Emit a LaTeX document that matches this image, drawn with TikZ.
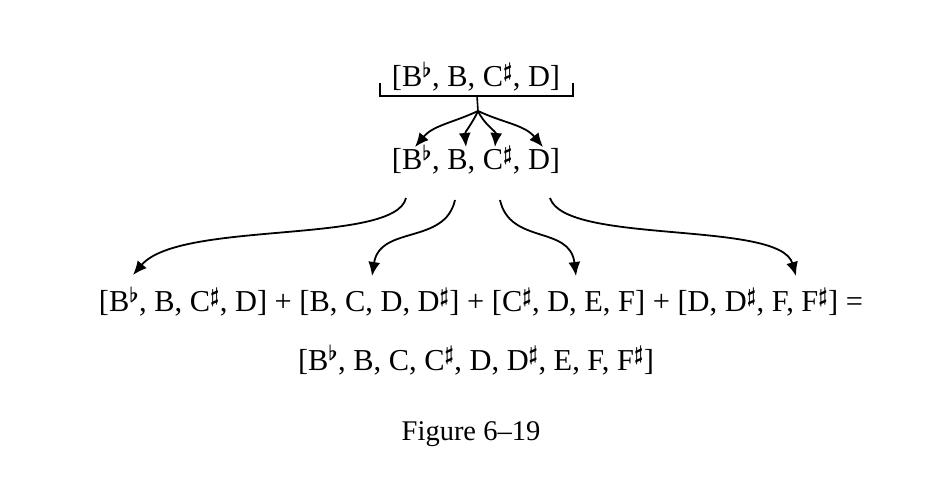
\documentclass[tikz,border=0pt]{standalone}
\usepackage{fontspec}
\setmainfont{Liberation Serif}
\usetikzlibrary{arrows.meta}
\usepackage{amsmath,bm}
\newcommand{\fl}{\ensuremath{^{\bm{\flat}}}}
\newcommand{\sh}{\ensuremath{^{\bm{\sharp}}}}
\begin{document}
\begin{tikzpicture}[x=1pt,y=-1pt,
  txt/.style={font=\fontsize{30.4}{34}\selectfont, inner sep=0pt, anchor=base},
  captxt/.style={font=\fontsize{28.5}{32}\selectfont, inner sep=0pt, anchor=base},
  arr/.style={line width=1.8pt, -{Latex[length=14pt,width=12pt]}},
  brk/.style={line width=1.6pt}]
\useasboundingbox (0,0) rectangle (934,478);
% rows
\node[txt] (r1) at (476,87) {[B\fl, B, C\sh, D]};
\node[txt] (r2) at (476,170) {[B\fl, B, C\sh, D]};
\node[txt] (r3) at (481,312) {[B\fl, B, C\sh, D] + [B, C, D, D\sh] + [C\sh, D, E, F] + [D, D\sh, F, F\sh] =};
\node[txt] (r4) at (476,370) {[B\fl, B, C, C\sh, D, D\sh, E, F, F\sh]};
\node[captxt] (cp) at (471,440) {Figure 6--19};
% bracket
\coordinate (bl) at (380,83);
\coordinate (br) at (573,83);
\coordinate (bm) at (478,111);
\draw[brk] (bl) |- (br |- 0,96) -- (br);
\draw[brk] (477,96) -- (bm);
% top arrows
\coordinate (a1) at (415,147);
\coordinate (a2) at (466,147);
\coordinate (a3) at (495,147);
\coordinate (a4) at (543,147);
\draw[arr] (bm) to[out=-155,in=50] (a1);
\draw[arr] (bm) to[out=-115,in=95] (a2);
\draw[arr] (bm) to[out=-65,in=85] (a3);
\draw[arr] (bm) to[out=-25,in=130] (a4);
% lower arrows
\coordinate (s1) at (406,198);
\coordinate (s2) at (455,200);
\coordinate (s3) at (500,200);
\coordinate (s4) at (550,198);
\coordinate (e1) at (133,275);
\coordinate (e2) at (372,276);
\coordinate (e3) at (576,276);
\coordinate (e4) at (796,276);
\draw[arr] (s1) .. controls (395,245) and (180,220) .. (e1);
\draw[arr] (s2) .. controls (445,245) and (380,225) .. (e2);
\draw[arr] (s3) .. controls (510,245) and (570,225) .. (e3);
\draw[arr] (s4) .. controls (565,245) and (780,220) .. (e4);
\end{tikzpicture}
\end{document}
